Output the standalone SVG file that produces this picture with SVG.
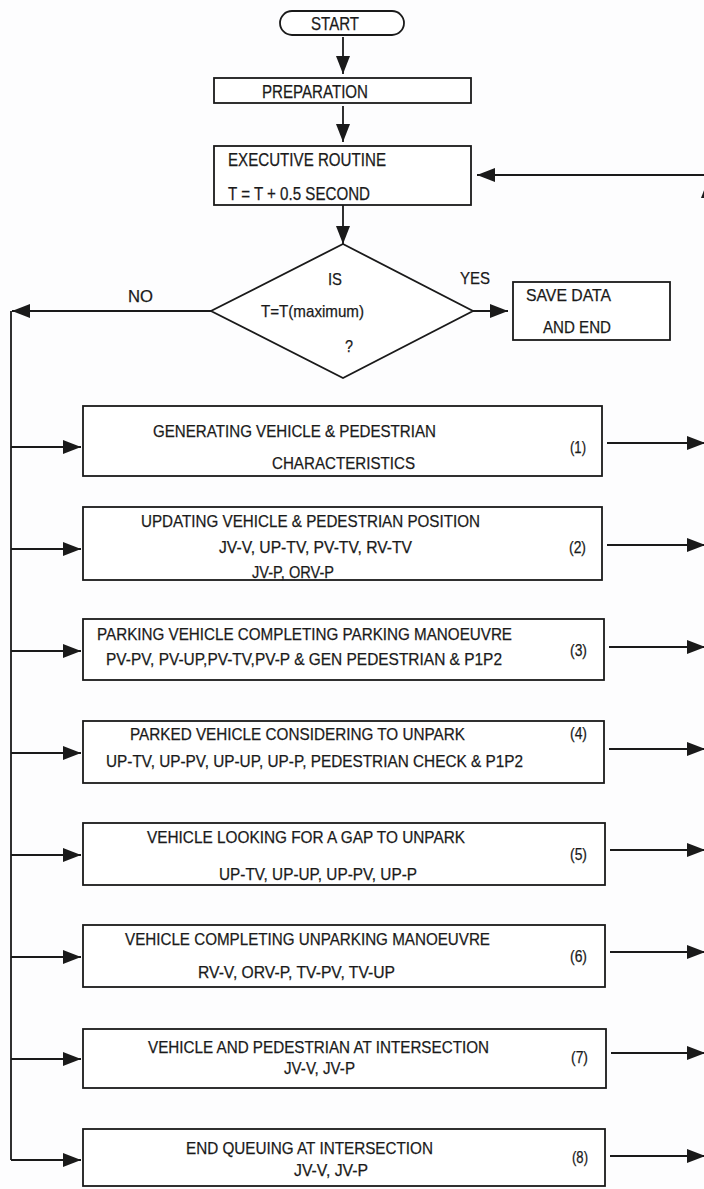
<svg xmlns="http://www.w3.org/2000/svg" width="704" height="1189" viewBox="0 0 704 1189">
<defs>
<marker id="ah" markerUnits="userSpaceOnUse" markerWidth="18" markerHeight="14" refX="18" refY="7" orient="auto">
<path d="M0,0 L18,7 L0,14 z" fill="#1a1a1a"/>
</marker>
<style>
.box{fill:#fff;stroke:#1a1a1a;stroke-width:1.8}
.ln{fill:none;stroke:#1a1a1a;stroke-width:1.8}
.ar{fill:none;stroke:#1a1a1a;stroke-width:1.8;marker-end:url(#ah)}
text{font-family:"Liberation Sans",Arial,sans-serif;font-size:17px;fill:#1a1a1a;stroke:#1a1a1a;stroke-width:0.25}
.big{font-size:18px}
</style>
</defs>
<rect width="704" height="1189" fill="#fdfdfe"/>

<g id="connectors">
<path class="ar" d="M343,37 L343,74"/>
<path class="ar" d="M343,106 L343,142"/>
<path class="ar" d="M343,205 L343,244"/>
<path class="ar" d="M473,311 L508,311"/>
<path class="ar" d="M211,311 L12,311"/>
<path class="ln" d="M11,311 L11,1160"/>
<path class="ar" d="M11,447 L81,447"/>
<path class="ar" d="M11,549 L81,549"/>
<path class="ar" d="M11,651 L81,651"/>
<path class="ar" d="M11,753 L81,753"/>
<path class="ar" d="M11,855 L81,855"/>
<path class="ar" d="M11,957 L81,957"/>
<path class="ar" d="M11,1059 L81,1059"/>
<path class="ar" d="M11,1160 L81,1160"/>
<path class="ar" d="M607,443 L705,443"/>
<path class="ar" d="M607,545 L705,545"/>
<path class="ar" d="M609,647 L705,647"/>
<path class="ar" d="M609,749 L705,749"/>
<path class="ar" d="M610,850 L705,850"/>
<path class="ar" d="M610,952 L705,952"/>
<path class="ar" d="M611,1053 L705,1053"/>
<path class="ar" d="M610,1156 L705,1156"/>
<path class="ar" d="M708,1156 L708,180"/>
<path class="ar" d="M712,175 L477,175"/>
<text x="128" y="302" textLength="25" lengthAdjust="spacingAndGlyphs">NO</text>
<text x="460" y="284" textLength="30" lengthAdjust="spacingAndGlyphs">YES</text>
</g>

<g id="start">
<rect class="box" x="280" y="11" width="124" height="24" rx="12" ry="12"/>
<text class="big" x="311" y="30" textLength="48" lengthAdjust="spacingAndGlyphs">START</text>
</g>

<g id="preparation">
<rect class="box" x="214" y="78" width="257" height="25"/>
<text class="big" x="262" y="98" textLength="106" lengthAdjust="spacingAndGlyphs">PREPARATION</text>
</g>

<g id="executive">
<rect class="box" x="214" y="146" width="257" height="59"/>
<text class="big" x="228" y="166" textLength="158" lengthAdjust="spacingAndGlyphs">EXECUTIVE ROUTINE</text>
<text class="big" x="228" y="200" textLength="142" lengthAdjust="spacingAndGlyphs">T = T + 0.5 SECOND</text>
</g>

<g id="decision">
<polygon class="box" points="343,244 473,311 343,378 211,311"/>
<text x="328" y="285" textLength="14" lengthAdjust="spacingAndGlyphs">IS</text>
<text x="261" y="317" textLength="103" lengthAdjust="spacingAndGlyphs">T=T(maximum)</text>
<text x="345" y="352" textLength="8" lengthAdjust="spacingAndGlyphs">?</text>
</g>

<g id="save">
<rect class="box" x="513" y="282" width="157" height="58"/>
<text x="526" y="301" textLength="85" lengthAdjust="spacingAndGlyphs">SAVE DATA</text>
<text x="543" y="333" textLength="68" lengthAdjust="spacingAndGlyphs">AND END</text>
</g>

<g id="box1">
<rect class="box" x="83" y="406" width="519" height="70"/>
<text x="153" y="437" textLength="283" lengthAdjust="spacingAndGlyphs">GENERATING VEHICLE &amp; PEDESTRIAN</text>
<text x="272" y="469" textLength="143" lengthAdjust="spacingAndGlyphs">CHARACTERISTICS</text>
<text x="570" y="453" textLength="16" lengthAdjust="spacingAndGlyphs">(1)</text>
</g>

<g id="box2">
<rect class="box" x="83" y="507" width="519" height="73"/>
<text x="141" y="527" textLength="339" lengthAdjust="spacingAndGlyphs">UPDATING VEHICLE &amp; PEDESTRIAN POSITION</text>
<text x="219" y="553" textLength="193" lengthAdjust="spacingAndGlyphs">JV-V, UP-TV, PV-TV, RV-TV</text>
<text x="252" y="578" textLength="82" lengthAdjust="spacingAndGlyphs">JV-P, ORV-P</text>
<text x="569" y="553" textLength="17" lengthAdjust="spacingAndGlyphs">(2)</text>
</g>

<g id="box3">
<rect class="box" x="83" y="619" width="521" height="61"/>
<text x="97" y="640" textLength="415" lengthAdjust="spacingAndGlyphs">PARKING VEHICLE COMPLETING PARKING MANOEUVRE</text>
<text x="106" y="665" textLength="396" lengthAdjust="spacingAndGlyphs">PV-PV, PV-UP,PV-TV,PV-P &amp; GEN PEDESTRIAN &amp; P1P2</text>
<text x="570" y="656" textLength="17" lengthAdjust="spacingAndGlyphs">(3)</text>
</g>

<g id="box4">
<rect class="box" x="83" y="721" width="521" height="62"/>
<text x="130" y="740" textLength="335" lengthAdjust="spacingAndGlyphs">PARKED VEHICLE CONSIDERING TO UNPARK</text>
<text x="106" y="767" textLength="417" lengthAdjust="spacingAndGlyphs">UP-TV, UP-PV, UP-UP, UP-P, PEDESTRIAN CHECK &amp; P1P2</text>
<text x="570" y="739" textLength="17" lengthAdjust="spacingAndGlyphs">(4)</text>
</g>

<g id="box5">
<rect class="box" x="83" y="823" width="522" height="62"/>
<text x="147" y="843" textLength="318" lengthAdjust="spacingAndGlyphs">VEHICLE LOOKING FOR A GAP TO UNPARK</text>
<text x="219" y="880" textLength="198" lengthAdjust="spacingAndGlyphs">UP-TV, UP-UP, UP-PV, UP-P</text>
<text x="570" y="860" textLength="17" lengthAdjust="spacingAndGlyphs">(5)</text>
</g>

<g id="box6">
<rect class="box" x="83" y="925" width="522" height="62"/>
<text x="125" y="945" textLength="365" lengthAdjust="spacingAndGlyphs">VEHICLE COMPLETING UNPARKING MANOEUVRE</text>
<text x="198" y="978" textLength="197" lengthAdjust="spacingAndGlyphs">RV-V, ORV-P, TV-PV, TV-UP</text>
<text x="570" y="962" textLength="17" lengthAdjust="spacingAndGlyphs">(6)</text>
</g>

<g id="box7">
<rect class="box" x="83" y="1029" width="523" height="59"/>
<text x="148" y="1053" textLength="341" lengthAdjust="spacingAndGlyphs">VEHICLE AND PEDESTRIAN AT INTERSECTION</text>
<text x="284" y="1074" textLength="71" lengthAdjust="spacingAndGlyphs">JV-V, JV-P</text>
<text x="571" y="1063" textLength="17" lengthAdjust="spacingAndGlyphs">(7)</text>
</g>

<g id="box8">
<rect class="box" x="83" y="1129" width="522" height="57"/>
<text x="186" y="1154" textLength="247" lengthAdjust="spacingAndGlyphs">END QUEUING AT INTERSECTION</text>
<text x="294" y="1176" textLength="74" lengthAdjust="spacingAndGlyphs">JV-V, JV-P</text>
<text x="572" y="1163" textLength="16" lengthAdjust="spacingAndGlyphs">(8)</text>
</g>
</svg>
